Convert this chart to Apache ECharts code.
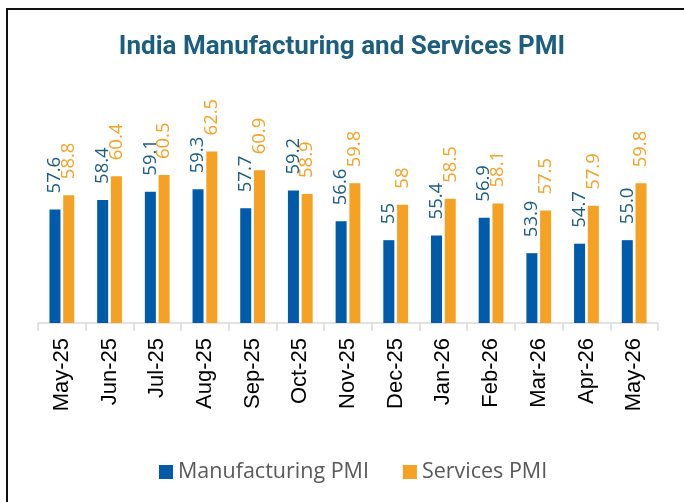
<!DOCTYPE html>
<html>
<head>
<meta charset="utf-8">
<script src="https://cdn.jsdelivr.net/npm/echarts@6/dist/echarts.min.js"></script>
<style>
  html, body { margin: 0; padding: 0; background: #fff; }
  #chart { width: 684px; height: 502px; }
</style>
</head>
<body>
<div id="chart"></div>
<script>
const months = ['May-25', 'Jun-25', 'Jul-25', 'Aug-25', 'Sep-25', 'Oct-25', 'Nov-25',
  'Dec-25', 'Jan-26', 'Feb-26', 'Mar-26', 'Apr-26', 'May-26']
const manufacturing = [57.6, 58.4, 59.1, 59.3, 57.7, 59.2, 56.6, 55, 55.4, 56.9, 53.9, 54.7, 55.0]
const services = [58.8, 60.4, 60.5, 62.5, 60.9, 58.9, 59.8, 58, 58.5, 58.1, 57.5, 57.9, 59.8]
// labels as printed on the chart (some keep a trailing .0, some don't)
const mfgLabels = ['57.6', '58.4', '59.1', '59.3', '57.7', '59.2', '56.6', '55', '55.4', '56.9', '53.9', '54.7', '55.0']
const svcLabels = ['58.8', '60.4', '60.5', '62.5', '60.9', '58.9', '59.8', '58', '58.5', '58.1', '57.5', '57.9', '59.8']

const chart = echarts.init(document.getElementById('chart'))

const labelBase = {
  show: true, position: 'top', rotate: 90, distance: 16,
  align: 'left', verticalAlign: 'middle',
  fontFamily: 'Open Sans', fontSize: 18.5
}

chart.setOption({
  animation: false,
  title: {
    text: 'India Manufacturing and Services PMI',
    left: 'center', top: 29,
    textStyle: { fontFamily: 'Roboto', fontWeight: 700, fontSize: 26, color: '#1B5E7F' }
  },
  legend: {
    left: 154, top: 456,
    itemWidth: 14, itemHeight: 14, itemGap: 34,
    icon: 'rect',
    textStyle: { fontFamily: 'Open Sans', fontSize: 21.5, color: '#595959' },
    data: ['Manufacturing PMI', 'Services PMI']
  },
  grid: { left: 38, right: 26, top: 110, bottom: 179 },
  xAxis: {
    type: 'category', data: months,
    axisLine: { lineStyle: { color: '#D9D9D9', width: 1.5 } },
    axisTick: { show: true, length: 8, alignWithLabel: false, lineStyle: { color: '#D9D9D9', width: 1.5 } },
    axisLabel: { rotate: 90, margin: 15, color: '#000', fontFamily: 'Liberation Sans', fontSize: 22, interval: 0 }
  },
  yAxis: {
    type: 'value', min: 48, max: 66, show: false, splitLine: { show: false }
  },
  series: [
    {
      name: 'Manufacturing PMI', type: 'bar', data: manufacturing,
      barWidth: 11, barGap: '25%',
      itemStyle: { color: '#005BAA' },
      label: { ...labelBase, color: '#1B5E7F', formatter: p => mfgLabels[p.dataIndex] }
    },
    {
      name: 'Services PMI', type: 'bar', data: services,
      barWidth: 11,
      itemStyle: { color: '#F5A124' },
      label: { ...labelBase, color: '#F5A124', formatter: p => svcLabels[p.dataIndex] }
    }
  ],
  graphic: [{
    type: 'rect', shape: { x: 7, y: 9, width: 720, height: 540 },
    style: { fill: 'none', stroke: '#111', lineWidth: 2 }
  }]
})
</script>
</body>
</html>
